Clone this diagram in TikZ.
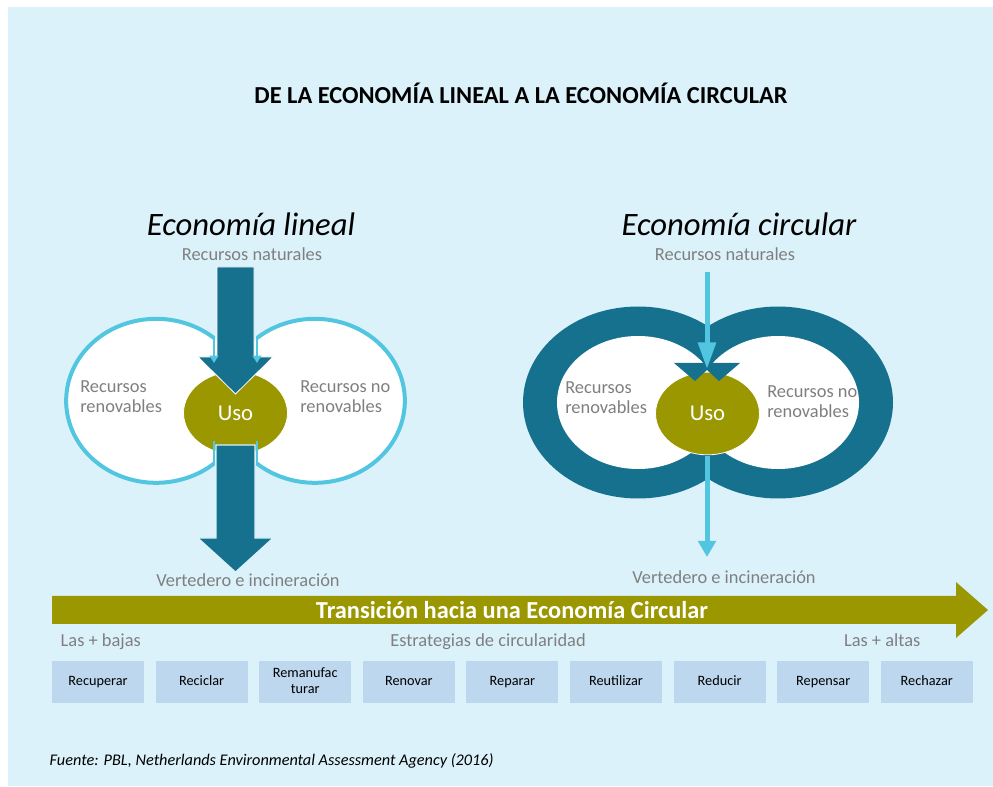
\documentclass[tikz,border=0pt]{standalone}
\usepackage{fontspec}
\setmainfont{Carlito}
\usetikzlibrary{arrows.meta,shapes.geometric}

\definecolor{fondo}{HTML}{DCF2FA}
\definecolor{petroleo}{HTML}{16718F}
\definecolor{celeste}{HTML}{52C6E0}
\definecolor{oliva}{HTML}{9A9700}
\definecolor{cajaazul}{HTML}{BDD7EE}
\definecolor{grisletra}{HTML}{7F7F7F}

\tikzset{
  gris/.style = {text = grisletra, font = \fontsize{13.8}{15}\selectfont},
  nivel/.style = {gris, text height = 1.6ex, text depth = .5ex},
  recurso/.style = {gris, align = left, anchor = west, inner sep = 0pt},
  uso/.style = {ellipse, fill = oliva, draw = white, line width = .6pt,
                minimum width = 78pt, minimum height = 62pt, inner sep = 0pt,
                text = white, font = \fontsize{17}{20}\selectfont},
  estrategia/.style = {fill = cajaazul, minimum width = 69pt, minimum height = 31.5pt,
                       inner sep = 1pt, align = center, font = \fontsize{10.7}{12.5}\selectfont},
  hilo/.style = {celeste, line width = 3.75pt},
}

\begin{document}
\begin{tikzpicture}[x = .75pt, y = -.75pt]
    \useasboundingbox (0,0) rectangle (993,787);
    \fill [fondo] (8,7) rectangle (993,786);

    % Draw the titles:
    \node [font = \bfseries\fontsize{18.3}{21}\selectfont] (titulo) at (521,93)
        {DE LA ECONOMÍA LINEAL A LA ECONOMÍA CIRCULAR};
    \node [font = \itshape\fontsize{24.5}{28}\selectfont] (linealT) at (251,224) {Economía lineal};
    \node [font = \itshape\fontsize{24.5}{28}\selectfont] (circularT) at (739,224) {Economía circular};

    % Draw the linear economy:
    \fill [white] (155,401) ellipse [x radius = 90, y radius = 82];
    \fill [white] (316,401) ellipse [x radius = 90, y radius = 82];
    \draw [celeste, line width = 3pt] (214,338) arc [start angle = -50, end angle = -310, x radius = 90, y radius = 82];
    \draw [celeste, line width = 3pt] (257,338) arc [start angle = -130, end angle = 130, x radius = 90, y radius = 82];
    \node [uso] (usoL) at (235.5,413) {Uso};
    \node [gris] (naturalL) at (252,254) {Recursos naturales};
    \node [recurso] (renovL) at (80,397) {Recursos\\renovables};
    \node [recurso] (norenovL) at (300,397) {Recursos no\\renovables};
    \fill [petroleo, draw = white, line width = .6pt] (217,267) -- (254,267) -- (254,357) -- (273,357)
        -- (235.5,394) -- (198,357) -- (217,357) -- cycle;
    \fill [petroleo, draw = white!80!celeste, line width = .8pt] (216,445) -- (255,445) -- (255,538) -- (273,538)
        -- (235.5,572) -- (198,538) -- (216,538) -- cycle;
    \foreach \x in {214, 257} {
        \draw [celeste, line width = 2.2pt, -{Triangle[width = 6.5pt, length = 5.5pt]}] (\x,337) -- (\x,363);
        \draw [celeste, line width = 2.2pt] (\x,441) -- (\x,465);
    }
    \node [gris] (vertL) at (248,580) {Vertedero e incineración};

    % Draw the circular economy:
    \fill [petroleo] (638,402.5) ellipse [x radius = 115, y radius = 96];
    \fill [petroleo] (778,402.5) ellipse [x radius = 115, y radius = 96];
    \fill [white] (638,402.5) ellipse [x radius = 81, y radius = 66.5];
    \fill [white] (778,402.5) ellipse [x radius = 81, y radius = 66.5];
    \node [uso] (usoC) at (707.5,413.5) {Uso};
    \fill [petroleo] (674,363) -- (740,363) -- (719,381) -- (707,370) -- (695,381) -- cycle;
    \node [gris] (naturalC) at (725,254) {Recursos naturales};
    \node [recurso] (renovC) at (565,398) {Recursos\\renovables};
    \node [recurso] (norenovC) at (767,402) {Recursos no\\renovables};
    \node [gris] (vertC) at (724,577) {Vertedero e incineración};
    \draw [hilo, -{Triangle[width = 13pt, length = 20pt]}] (707,272) -- (707,369);
    \draw [hilo, -{Triangle[width = 13pt, length = 12pt]}] (707,456) -- (707,557);

    % Draw the transition arrow:
    \fill [oliva] (52,596) -- (956,596) -- (956,582) -- (988,610) -- (956,638) -- (956,624) -- (52,624) -- cycle;
    \node [text = white, font = \bfseries\fontsize{18.3}{21}\selectfont] (transicion) at (512,610)
        {Transición hacia una Economía Circular};
    \node [nivel, anchor = west] (bajas) at (56,643) {Las + bajas};
    \node [nivel] (estrategias) at (488,643) {Estrategias de circularidad};
    \node [nivel, anchor = east] (altas) at (925,643) {Las + altas};

    % Draw the strategies:
    \foreach \nombre [count = \i] in {Recuperar, Reciclar, {Remanufac\strut\\turar}, Renovar, Reparar,
                                      Reutilizar, Reducir, Repensar, Rechazar}
        \node [estrategia] (e\i) at ({98+103.6*(\i-1)},682) {\nombre\strut};

    \node [anchor = west, font = \itshape\fontsize{12.2}{14}\selectfont] (fuente) at (45,761)
        {Fuente: PBL, Netherlands Environmental Assessment Agency (2016)};
\end{tikzpicture}
\end{document}
